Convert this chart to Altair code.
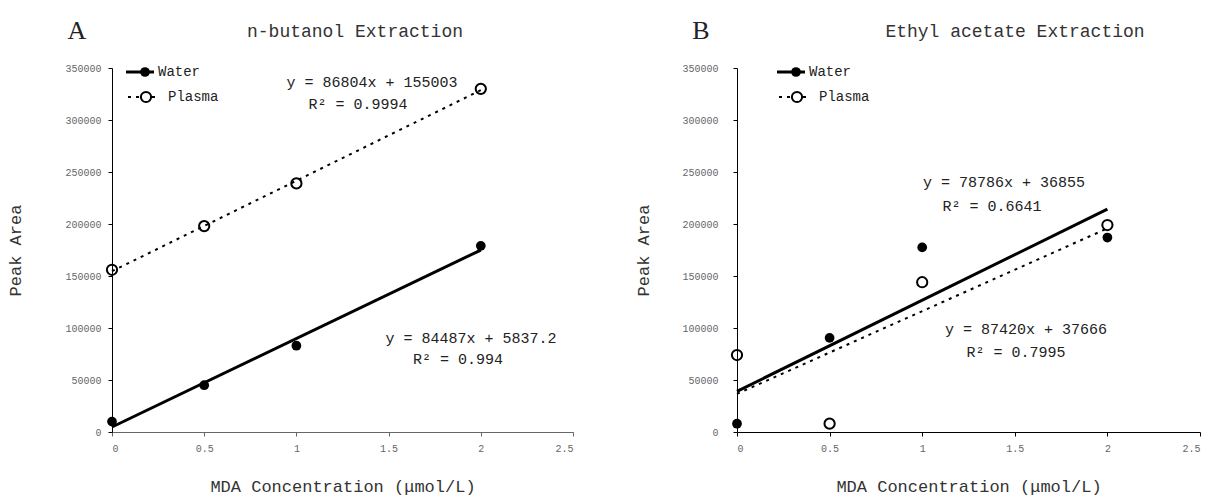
import altair as alt
import pandas as pd

# ---- data ----
conc = [0, 0.5, 1, 2]
a_water = [10000, 45000, 83000, 179000]
a_plasma = [156000, 198000, 239000, 330000]
b_water = [8000, 90500, 177500, 187000]
b_plasma = [74000, 8000, 144000, 199000]
series_names = ["Water", "Plasma"]
x_ticks = [0, 0.5, 1, 1.5, 2, 2.5]
y_ticks = [0, 50000, 100000, 150000, 200000, 250000, 300000, 350000]
a_labels = ["y = 86804x + 155003", "R² = 0.9994", "y = 84487x + 5837.2", "R² = 0.994"]
b_labels = ["y = 78786x + 36855", "R² = 0.6641", "y = 87420x + 37666", "R² = 0.7995"]
titles = ["n-butanol Extraction", "Ethyl acetate Extraction"]
letters = ["A", "B"]
x_title = "MDA Concentration (μmol/L)"
y_title = "Peak Area"

MONO = "Liberation Mono"
W, H = 461, 364


def frame(water, plasma):
    rows = []
    for x, w in zip(conc, water):
        rows.append({"conc": x, "area": w, "series": series_names[0]})
    for x, p in zip(conc, plasma):
        rows.append({"conc": x, "area": p, "series": series_names[1]})
    return pd.DataFrame(rows)


def txt(s, x, y, size=16, font=MONO, align="center", color="#222"):
    return alt.Chart(pd.DataFrame({"t": [s]})).mark_text(
        font=font, fontSize=size, align=align, baseline="middle", color=color
    ).encode(x=alt.value(x), y=alt.value(y), text="t:N")


def panel(water, plasma, title, letter, labels, lab_pos, title_x, letter_x,
          leg_x, x_domain_color, label_pad, title_pad, w):
    df = frame(water, plasma)
    base = alt.Chart(df)
    xenc = alt.X("conc:Q", scale=alt.Scale(domain=[0, 2.5], nice=False),
                 axis=alt.Axis(values=x_ticks, format="~g", title=x_title,
                               domainColor=x_domain_color, tickColor=x_domain_color,
                               titlePadding=25))
    yenc = alt.Y("area:Q", scale=alt.Scale(domain=[0, 350000], nice=False),
                 axis=alt.Axis(values=y_ticks, format="d", title=y_title,
                               labelPadding=label_pad, titlePadding=title_pad))
    water_f = alt.datum.series == series_names[0]
    plasma_f = alt.datum.series == series_names[1]

    wline = base.transform_filter(water_f).transform_regression(
        "conc", "area", extent=[0, 2]).mark_line(color="black", strokeWidth=3).encode(x=xenc, y=yenc)
    pline = base.transform_filter(plasma_f).transform_regression(
        "conc", "area", extent=[0, 2]).mark_line(color="black", strokeWidth=2,
                                                 strokeDash=[3, 5]).encode(x=xenc, y=yenc)
    wpts = base.transform_filter(water_f).mark_circle(
        size=95, color="black", opacity=1).encode(x=xenc, y=yenc)
    ppts = base.transform_filter(plasma_f).mark_point(
        shape="circle", size=105, filled=False, color="black", strokeWidth=2,
        opacity=1).encode(x=xenc, y=yenc)

    layers = [pline, wline, ppts, wpts]
    for s, (px, py) in zip(labels, lab_pos):
        layers.append(txt(s, px, py, size=15))
    layers.append(txt(title, title_x, -36, size=18, color="#333"))
    layers.append(txt(letter, letter_x, -37, size=26, font="Liberation Serif", color="#222"))

    # hand-built legend
    lx = leg_x
    one = pd.DataFrame({"k": [0]})
    layers.append(alt.Chart(one).mark_rule(color="black", strokeWidth=3).encode(
        x=alt.value(lx), x2=alt.value(lx + 28), y=alt.value(4)))
    layers.append(alt.Chart(one).mark_circle(size=95, color="black", opacity=1).encode(
        x=alt.value(lx + 19), y=alt.value(4)))
    layers.append(txt(series_names[0], lx + 32, 4, size=14, align="left"))
    layers.append(alt.Chart(one).mark_rule(color="black", strokeWidth=2, strokeDash=[3, 5]).encode(
        x=alt.value(lx + 2), x2=alt.value(lx + 34), y=alt.value(29)))
    layers.append(alt.Chart(one).mark_point(shape="circle", size=105, filled=False, color="black",
                                            strokeWidth=2, opacity=1, fill="white").encode(
        x=alt.value(lx + 20), y=alt.value(29)))
    layers.append(txt(series_names[1], lx + 42, 29, size=14, align="left"))

    return alt.layer(*layers).properties(width=w, height=H)


left = panel(a_water, a_plasma, titles[0], letters[0], a_labels,
             [(260, 14), (246, 36), (359, 270), (346, 291)],
             title_x=243, letter_x=-35, leg_x=14, x_domain_color="#666",
             label_pad=7, title_pad=40, w=W)
right = panel(b_water, b_plasma, titles[1], letters[1], b_labels,
              [(267, 114), (255, 138), (289, 261), (279, 284)],
              title_x=278, letter_x=-36, leg_x=40, x_domain_color="black",
              label_pad=15, title_pad=29, w=W + 2)

chart = alt.hconcat(left, right, spacing=60).properties(
    padding={"left": 6, "top": 18, "right": 5, "bottom": 2}
).configure_view(stroke=None).configure_axis(
    grid=False, labelFont=MONO, labelFontSize=10, labelColor="#666",
    titleFont=MONO, titleFontSize=17, titleFontWeight="normal", titleColor="#333",
    domainColor="black", tickColor="black", tickSize=4, labelPadding=6,
).configure_axisX(labelPadding=7)

chart.save("out.html", embed_options={"renderer": "svg", "actions": False})
